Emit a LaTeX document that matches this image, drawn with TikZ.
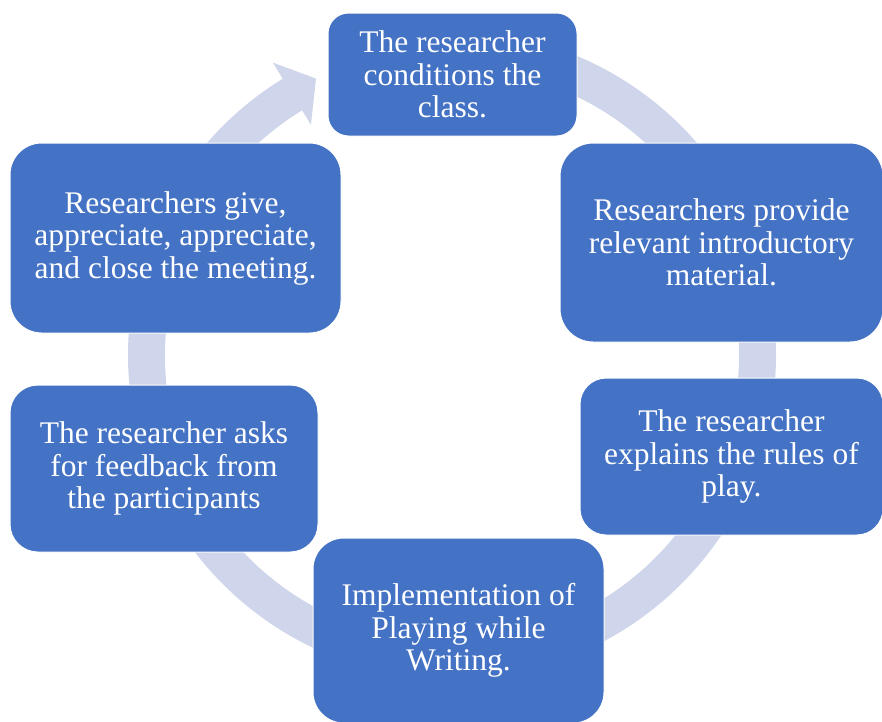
\documentclass[tikz,border=0pt]{standalone}
\usepackage{fontspec}
\setmainfont{Liberation Serif}
\definecolor{stageblue}{HTML}{4472C4}
\definecolor{ringlav}{HTML}{CFD5EA}
\tikzstyle{stage}=[draw=white,line width=1pt,fill=stageblue,text=white,align=center,inner sep=0pt,font=\fontsize{31.5}{32.5}\selectfont]
\tikzstyle{cyclering}=[fill=ringlav,draw=none]
\newcommand{\drawstage}[6]{%
\pgfmathsetmacro{\bw}{#4-#2}%
\pgfmathsetmacro{\bh}{#5-#3}%
\pgfmathsetmacro{\br}{min(\bw,\bh)/6}%
\node[stage,minimum width=\bw pt,minimum height=\bh pt,rounded corners=\br pt] (#1) at ({(#2+#4)/2},{(#3+#5)/2}) {#6};%
}

\begin{document}
\begin{tikzpicture}[x=1pt,y=-1pt]
\useasboundingbox (0,0) rectangle (882,721);
	% ring with its head, behind the stages
	\fill[cyclering,shift={(452,355)}] (-90:324) arc[start angle=-90,end angle=238.5,radius=324]
	   -- (238.5:343) -- (243.8:308) -- (238.5:270) -- (238.5:287)
	   arc[start angle=238.5,end angle=-90,radius=287] -- cycle;
	% stages: name, left, top, right, bottom, text
	\drawstage{cond}{328}{13}{577}{136}{The researcher\\conditions the\\class.}
	\drawstage{intro}{560}{143}{883}{342}{Researchers provide\\relevant introductory\\material.}
	\drawstage{rules}{580}{378}{883}{535}{The researcher\\explains the rules of\\play.}
	\drawstage{play}{313}{538}{604}{723}{Implementation of\\Playing while\\Writing.}
	\drawstage{feedback}{10}{385}{318}{552}{The researcher asks\\for feedback from\\the participants}
	\drawstage{close}{10}{143}{341}{333}{Researchers give,\\appreciate, appreciate,\\and close the meeting.}
\end{tikzpicture}
\end{document}
